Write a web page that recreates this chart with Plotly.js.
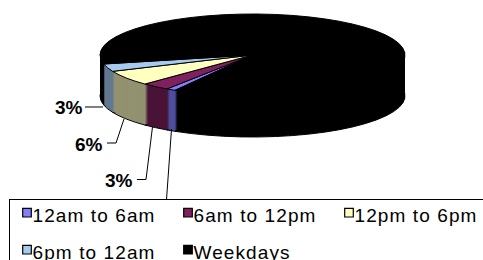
<!DOCTYPE html>
<html>
<head>
<meta charset="utf-8">
<script src="https://cdn.plot.ly/plotly-3.0.1.min.js"></script>
<style>
  html, body { margin: 0; padding: 0; background: #fff; }
  #chart { width: 483px; height: 260px; }
  .legendtext { letter-spacing: 1.1px; }
</style>
</head>
<body>
<div id="chart"></div>
<script>
// ---- data ----
const categories = ['12am to 6am', '6am to 12pm', '12pm to 6pm', '6pm to 12am', 'Weekdays'];
const shares = [1, 3, 6, 3, 87];
const shownLabels = ['', '3%', '6%', '3%', ''];

// ---- styles ----
const topColors = ['#8080FF', '#802060', '#FFFFC0', '#A6CAF0', '#000000'];
const sideColors = ['#4E4E9E', '#4A1438', '#929270', '#62788F', '#000000'];

const W = 483, H = 260;
const CX = 252.5, CY = 55, RX = 152.5, RY = 41, DEPTH = 41;
const ROT = 210.5;

const traces = [];
const offsets = [];
for (let d = DEPTH; d >= 1; d--) {
  traces.push({
    type: 'pie', labels: categories, values: shares, sort: false,
    direction: 'clockwise', rotation: ROT, textinfo: 'none', hoverinfo: 'skip',
    showlegend: false,
    marker: { colors: sideColors, line: { color: '#000', width: d === DEPTH ? 1 : 0 } }
  });
  offsets.push(d);
}
traces.push({
  type: 'pie', labels: categories, values: shares, sort: false,
  direction: 'clockwise', rotation: ROT, textinfo: 'none', hoverinfo: 'skip',
  showlegend: true,
  marker: { colors: topColors, line: { color: '#000', width: 1 } }
});
offsets.push(0);

function px(x) { return x / W; }
function py(y) { return 1 - y / H; }
function path(pts) { return pts.map((p, i) => (i ? 'L' : 'M') + px(p[0]).toFixed(4) + ',' + py(p[1]).toFixed(4)).join(' '); }

const labelFont = { family: 'Liberation Sans, Arial, sans-serif', size: 19, color: '#000', weight: 'bold' };
const annotations = [
  { x: px(69), y: py(107), text: shownLabels[3] },
  { x: px(89), y: py(144), text: shownLabels[2] },
  { x: px(119), y: py(180), text: shownLabels[1] }
].map(a => Object.assign({ xref: 'paper', yref: 'paper', showarrow: false, xanchor: 'center', yanchor: 'middle', font: labelFont }, a));

const leader = { type: 'path', xref: 'paper', yref: 'paper', line: { color: '#000', width: 1 } };
const shapes = [
  Object.assign({ path: path([[85, 107], [103, 107]]) }, leader),
  Object.assign({ path: path([[107, 143], [116, 143], [124, 119]]) }, leader),
  Object.assign({ path: path([[137, 179.5], [146, 179.5], [152.5, 127]]) }, leader),
  Object.assign({ path: path([[171.5, 129], [166.5, 200]]) }, leader)
];

const layout = {
  width: W, height: H,
  margin: { l: 0, r: 0, t: 0, b: 0, autoexpand: false },
  paper_bgcolor: '#fff', plot_bgcolor: '#fff',
  font: { family: 'Liberation Sans, Arial, sans-serif', size: 19, color: '#000' },
  showlegend: true,
  legend: {
    orientation: 'h', x: 9 / W, xanchor: 'left', y: 1 - 199 / H, yanchor: 'top',
    bgcolor: '#fff', bordercolor: '#000', borderwidth: 1,
    font: { family: 'Liberation Sans, Arial, sans-serif', size: 19, color: '#000' },
    traceorder: 'normal'
  },
  annotations: annotations,
  shapes: shapes
};

const gd = document.getElementById('chart');
Plotly.newPlot(gd, traces, layout, { staticPlot: true, displayModeBar: false }).then(function () {
  // flatten the pies into an elliptical 3-D disc
  const gs = gd.querySelectorAll('.pielayer g.trace');
  gs.forEach(function (g, i) {
    const cd0 = (g.__data__ && g.__data__[0]) || gd.calcdata[i][0];
    const sx = RX / cd0.r, sy = RY / cd0.r;
    g.setAttribute('transform', 'translate(' + CX + ',' + (CY + offsets[i]) + ') scale(' + sx + ',' + sy + ') translate(' + (-cd0.cx) + ',' + (-cd0.cy) + ')');
    g.querySelectorAll('path').forEach(function (p) { p.setAttribute('vector-effect', 'non-scaling-stroke'); });
  });
  // legend: grid of 3 columns like the reference
  const leg = gd.querySelector('g.legend');
  if (leg) {
    leg.setAttribute('transform', 'translate(9,199)');
    const bg = leg.querySelector('rect.bg');
    if (bg) { bg.setAttribute('x', 0.5); bg.setAttribute('y', 0.5); bg.setAttribute('width', 560); bg.setAttribute('height', 140); }
    const sb = leg.querySelector('.scrollbox');
    if (sb) { sb.removeAttribute('clip-path'); sb.setAttribute('transform', 'translate(0,0)'); }
    const grp = leg.querySelector('.groups');
    if (grp) grp.setAttribute('transform', 'translate(0,0)');
    leg.querySelectorAll('g.traces').forEach(function (it, k) {
      const col = k % 3, row = Math.floor(k / 3);
      it.setAttribute('transform', 'translate(' + (18 + 161 * col) + ',' + (13.7 + 37 * row) + ')');
      const t = it.querySelector('text.legendtext');
      if (t) { t.setAttribute('x', 5.5); t.setAttribute('y', 9); }
      const p = it.querySelector('path.legendpie');
      if (p) {
        p.setAttribute('d', 'M4.3,4.3H-4.3V-4.3H4.3Z');
        p.setAttribute('transform', 'translate(0,0)');
        p.style.strokeWidth = '1.2px';
        p.style.stroke = '#000';
      }
    });
  }
});
</script>
</body>
</html>
